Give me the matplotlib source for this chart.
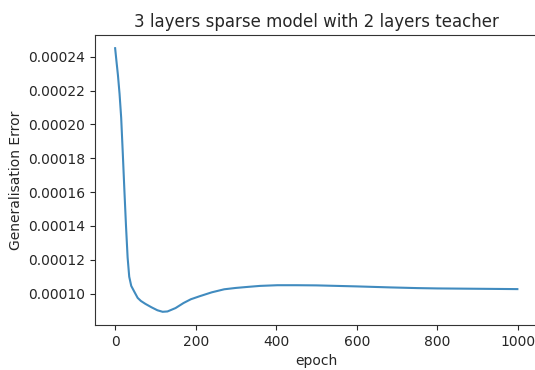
import matplotlib
matplotlib.use("Agg")
import matplotlib.pyplot as plt

epochs = [0, 3, 7, 11, 15, 19, 23, 27, 31, 35, 40, 48, 56, 64, 75, 90, 105, 118, 130, 150, 170, 188, 210, 240, 271, 300, 329, 360, 403, 450, 500, 550, 600, 684, 750, 800, 850, 900, 950, 999]
gen_error = [0.000245, 0.000238, 0.000229, 0.000218, 0.000204, 0.000183, 0.000161, 0.000140, 0.0001214, 0.000110, 0.0001046, 0.0001010, 0.0000975, 0.0000957, 0.0000940, 0.0000920, 0.0000902, 0.0000893, 0.0000895, 0.0000915, 0.0000945, 0.0000967, 0.0000985, 0.0001008, 0.0001026, 0.0001034, 0.0001040, 0.0001046, 0.0001050, 0.0001050, 0.0001049, 0.0001046, 0.0001043, 0.0001037, 0.0001033, 0.0001031, 0.0001030, 0.0001029, 0.0001028, 0.0001027]

plt.rcParams["text.color"] = "#262626"
plt.rcParams["axes.labelcolor"] = "#262626"
plt.rcParams["xtick.color"] = "#262626"
plt.rcParams["ytick.color"] = "#262626"
plt.rcParams["axes.edgecolor"] = "#333333"

fig = plt.figure(figsize=(5.35, 3.7), dpi=100)
ax = fig.add_axes([95/535, 1-325/370, (537.5-95)/535, (325-35)/370])
ax.plot(epochs, gen_error, color="#1f77b4", linewidth=1.5, alpha=0.85)
ax.set_title("3 layers sparse model with 2 layers teacher", fontsize=12)
ax.set_xlabel("epoch")
ax.set_ylabel("Generalisation Error")
ax.set_xticks([0, 200, 400, 600, 800, 1000])
ax.set_yticks([0.00010, 0.00012, 0.00014, 0.00016, 0.00018, 0.00020, 0.00022, 0.00024])
ax.set_yticklabels(["0.00010", "0.00012", "0.00014", "0.00016", "0.00018", "0.00020", "0.00022", "0.00024"])
ax.set_xlim(-50, 1049)
ax.set_ylim(0.0000815, 0.0002528)
fig.savefig("out.png", dpi=100)
